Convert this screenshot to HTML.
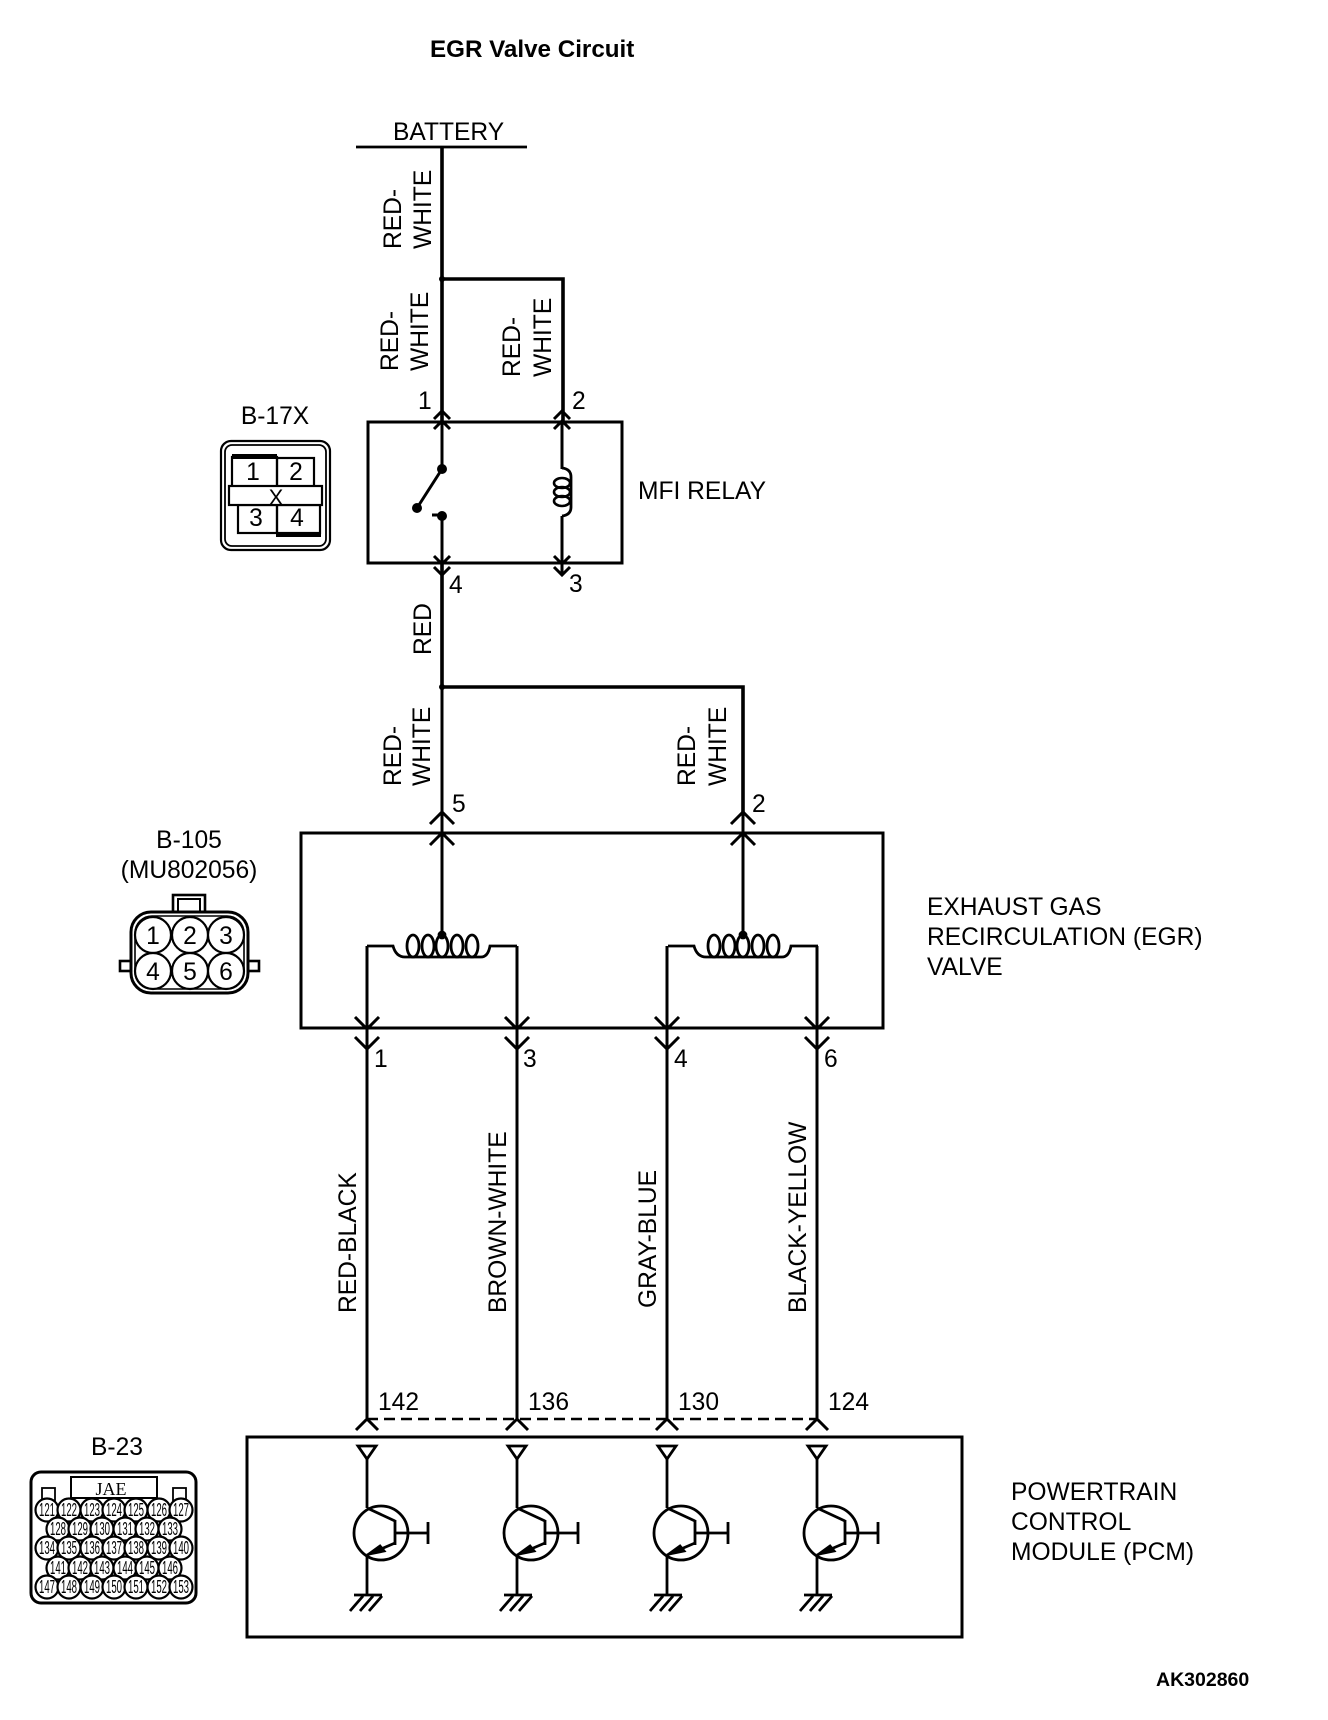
<!DOCTYPE html>
<html><head><meta charset="utf-8"><style>
html,body{margin:0;padding:0;background:#fff}
svg{display:block}
text{font-family:"Liberation Sans",sans-serif;font-size:24.6px;fill:#000}
.b{font-weight:bold}
.p text{font-size:18px;text-anchor:middle}
.m{text-anchor:middle}
.l{fill:none;stroke:#000;stroke-width:3}
.c circle{fill:#fff;stroke:#000;stroke-width:2.2}
</style></head><body>
<svg width="1328" height="1720" viewBox="0 0 1328 1720" xmlns="http://www.w3.org/2000/svg">
<defs>
<g id="tr" fill="none" stroke="#000" stroke-width="2.8">
<path d="M358 1446H376L367 1459Z"/>
<path d="M367 1459V1508"/>
<circle cx="381" cy="1533" r="27"/>
<path d="M367 1508L395 1521M395 1520V1545M395 1533H428M428 1522V1544M395 1543L367 1555M367 1555V1595M354 1595H382M363 1596L350 1611M373 1596L360 1611M382 1596L369 1611"/>
<path d="M369 1554L380 1546L384 1551Z" fill="#000"/>
</g>
<g id="coil" fill="none" stroke="#000" stroke-width="2.8">
<path d="M367 946H393Q396 957 405 957H481Q488 957 490 946H517"/>
<ellipse cx="413" cy="946" rx="6" ry="11"/>
<ellipse cx="428" cy="946" rx="6" ry="11"/>
<ellipse cx="442" cy="946" rx="6" ry="11"/>
<ellipse cx="457" cy="946" rx="6" ry="11"/>
<ellipse cx="472" cy="946" rx="6" ry="11"/>
<circle cx="442" cy="935" r="3" fill="#000"/>
</g>
</defs>

<text class="b" x="430" y="57" style="font-size:24.2px">EGR Valve Circuit</text>
<text class="b" x="1156" y="1686" style="font-size:19.5px">AK302860</text>

<!-- battery + upper wiring -->
<path d="M356 147H527" stroke="#000" stroke-width="2.8" fill="none"/>
<text x="393" y="140">BATTERY</text>
<path class="l" style="stroke-width:3.6" d="M442 147V422M442 279H563V422M442 563V687M442 687H743V812"/>
<path class="l" d="M442 687V935"/>
<circle cx="442" cy="279" r="3" fill="#000"/>
<circle cx="442" cy="687" r="3" fill="#000"/>

<!-- relay -->
<rect x="368" y="422" width="254" height="141" fill="none" stroke="#000" stroke-width="3"/>
<path class="l" d="M442 422V469M442 516V563M562 422V469M562 516V575"/>
<path class="l" d="M434 419L442 411L450 419M434 429L442 421L450 429M554 419L562 411L570 419M554 429L562 421L570 429"/>
<path class="l" d="M434 556L442 564L450 556M434 567L442 575L450 567M554 556L562 564L570 556M554 567L562 575L570 567"/>
<circle cx="442" cy="469" r="5"/>
<circle cx="442" cy="516" r="5"/>
<circle cx="417" cy="508" r="5"/>
<path class="l" d="M442 469L417 508M432 515H442"/>
<path fill="none" stroke="#000" stroke-width="2.800" d="M562 468Q571 469 571 477V507Q571 515 562 516"/>
<ellipse cx="562" cy="483" rx="8" ry="5" fill="none" stroke="#000" stroke-width="2.600"/>
<ellipse cx="562" cy="492" rx="8" ry="5" fill="none" stroke="#000" stroke-width="2.600"/>
<ellipse cx="562" cy="501" rx="8" ry="5" fill="none" stroke="#000" stroke-width="2.600"/>
<text x="418" y="409">1</text><text x="572" y="409">2</text>
<text x="449" y="593">4</text><text x="569" y="592">3</text>
<text x="638" y="499">MFI RELAY</text>

<!-- wire labels -->
<text transform="translate(401 249) rotate(-90)">RED-</text>
<text transform="translate(431 249) rotate(-90)">WHITE</text>
<text transform="translate(398 371) rotate(-90)">RED-</text>
<text transform="translate(428 371) rotate(-90)">WHITE</text>
<text transform="translate(520 377) rotate(-90)">RED-</text>
<text transform="translate(551 377) rotate(-90)">WHITE</text>
<text transform="translate(431 655) rotate(-90)">RED</text>
<text transform="translate(401 786) rotate(-90)">RED-</text>
<text transform="translate(430 786) rotate(-90)">WHITE</text>
<text transform="translate(695 786) rotate(-90)">RED-</text>
<text transform="translate(726 786) rotate(-90)">WHITE</text>
<text transform="translate(356 1313) rotate(-90)">RED-BLACK</text>
<text transform="translate(506 1313) rotate(-90)">BROWN-WHITE</text>
<text transform="translate(656 1308) rotate(-90)">GRAY-BLUE</text>
<text transform="translate(806 1313) rotate(-90)">BLACK-YELLOW</text>

<!-- EGR valve -->
<rect x="301" y="833" width="582" height="195" fill="none" stroke="#000" stroke-width="3"/>
<path class="l" d="M442 812V935M743 812V935"/>
<path class="l" d="M430 824L442 812L454 824M430 845L442 833L454 845M731 824L743 812L755 824M731 845L743 833L755 845"/>
<use href="#coil"/>
<use href="#coil" x="301"/>
<path class="l" d="M367 946V1418M517 946V1418M667 946V1418M817 946V1418"/>
<path class="l" d="M355 1017L367 1029L379 1017M355 1037L367 1049L379 1037M505 1017L517 1029L529 1017M505 1037L517 1049L529 1037M655 1017L667 1029L679 1017M655 1037L667 1049L679 1037M805 1017L817 1029L829 1017M805 1037L817 1049L829 1037"/>
<text x="452" y="812">5</text><text x="752" y="812">2</text>
<text x="374" y="1067">1</text><text x="523" y="1067">3</text>
<text x="674" y="1067">4</text><text x="824" y="1067">6</text>
<text x="927" y="915">EXHAUST GAS</text>
<text x="927" y="945">RECIRCULATION (EGR)</text>
<text x="927" y="975">VALVE</text>

<!-- PCM -->
<rect x="247" y="1437" width="715" height="200" fill="none" stroke="#000" stroke-width="3"/>
<path d="M367 1419H817" fill="none" stroke="#000" stroke-width="2.600" stroke-dasharray="11 6"/>
<path class="l" d="M356 1430L367 1419L378 1430M506 1430L517 1419L528 1430M656 1430L667 1419L678 1430M806 1430L817 1419L828 1430"/>
<use href="#tr"/><use href="#tr" x="150"/><use href="#tr" x="300"/><use href="#tr" x="450"/>
<text x="378" y="1410">142</text><text x="528" y="1410">136</text>
<text x="678" y="1410">130</text><text x="828" y="1410">124</text>
<text x="1011" y="1500">POWERTRAIN</text>
<text x="1011" y="1530">CONTROL</text>
<text x="1011" y="1560">MODULE (PCM)</text>

<!-- B-17X -->
<text class="m" x="275" y="424">B-17X</text>
<rect x="221" y="441" width="109" height="109" rx="10" fill="none" stroke="#000" stroke-width="2.2"/>
<rect x="225" y="445" width="101" height="101" rx="7" fill="none" stroke="#000" stroke-width="1.800"/>
<rect x="232" y="457" width="45" height="30" fill="none" stroke="#000" stroke-width="2.200"/>
<rect x="277" y="458" width="37" height="29" fill="none" stroke="#000" stroke-width="2.200"/>
<rect x="232" y="454" width="45" height="5"/>
<rect x="238" y="505" width="39" height="28" fill="none" stroke="#000" stroke-width="2.200"/>
<rect x="277" y="505" width="43" height="28" fill="none" stroke="#000" stroke-width="2.200"/>
<rect x="276" y="532" width="45" height="5"/>
<rect x="229" y="486" width="93" height="19" fill="#fff" stroke="#000" stroke-width="2.200"/>
<text class="m" x="253" y="480">1</text><text class="m" x="296" y="480">2</text>
<text class="m" x="256" y="526">3</text><text class="m" x="297" y="526">4</text>
<text class="m" x="276" y="505" style="font-size:22px">X</text>

<!-- B-105 -->
<text class="m" x="189" y="848">B-105</text>
<text class="m" x="189" y="878">(MU802056)</text>
<rect x="173" y="895" width="32" height="18" fill="none" stroke="#000" stroke-width="2.600"/>
<rect x="178" y="899" width="22" height="14" fill="none" stroke="#000" stroke-width="2"/>
<rect x="120" y="961" width="11" height="10" fill="none" stroke="#000" stroke-width="2.600"/>
<rect x="248" y="961" width="11" height="10" fill="none" stroke="#000" stroke-width="2.600"/>
<rect x="131" y="912" width="117" height="81" rx="20" fill="#fff" stroke="#000" stroke-width="3"/>
<rect x="135" y="916" width="109" height="73" rx="17" fill="none" stroke="#000" stroke-width="1.600"/>
<g class="c">
<circle cx="153" cy="935" r="18"/><circle cx="190" cy="935" r="18"/><circle cx="226" cy="935" r="18"/>
<circle cx="153" cy="971" r="18"/><circle cx="190" cy="971" r="18"/><circle cx="226" cy="971" r="18"/>
</g>
<text class="m" x="153" y="944">1</text><text class="m" x="190" y="944">2</text><text class="m" x="226" y="944">3</text>
<text class="m" x="153" y="980">4</text><text class="m" x="190" y="980">5</text><text class="m" x="226" y="980">6</text>

<!-- B-23 -->
<text class="m" x="117" y="1455">B-23</text>
<rect x="31" y="1472" width="165" height="131" rx="10" fill="none" stroke="#000" stroke-width="3"/>
<rect x="71" y="1477" width="86" height="21" fill="none" stroke="#000" stroke-width="2"/>
<rect x="42" y="1488" width="13" height="13" fill="none" stroke="#000" stroke-width="1.800"/>
<rect x="173" y="1488" width="13" height="13" fill="none" stroke="#000" stroke-width="1.800"/>
<text class="m" x="111" y="1495" style="font-size:18px;font-family:'Liberation Serif',serif">JAE</text>
<g class="c">
<circle cx="47" cy="1510" r="11.500"/><circle cx="69" cy="1510" r="11.500"/><circle cx="92" cy="1510" r="11.500"/><circle cx="114" cy="1510" r="11.500"/><circle cx="136" cy="1510" r="11.500"/><circle cx="159" cy="1510" r="11.500"/><circle cx="181" cy="1510" r="11.500"/>
<circle cx="58" cy="1529" r="11.500"/><circle cx="80" cy="1529" r="11.500"/><circle cx="102" cy="1529" r="11.500"/><circle cx="125" cy="1529" r="11.500"/><circle cx="147" cy="1529" r="11.500"/><circle cx="170" cy="1529" r="11.500"/>
<circle cx="47" cy="1548" r="11.500"/><circle cx="69" cy="1548" r="11.500"/><circle cx="92" cy="1548" r="11.500"/><circle cx="114" cy="1548" r="11.500"/><circle cx="136" cy="1548" r="11.500"/><circle cx="159" cy="1548" r="11.500"/><circle cx="181" cy="1548" r="11.500"/>
<circle cx="58" cy="1568" r="11.500"/><circle cx="80" cy="1568" r="11.500"/><circle cx="102" cy="1568" r="11.500"/><circle cx="125" cy="1568" r="11.500"/><circle cx="147" cy="1568" r="11.500"/><circle cx="170" cy="1568" r="11.500"/>
<circle cx="47" cy="1587" r="11.500"/><circle cx="69" cy="1587" r="11.500"/><circle cx="92" cy="1587" r="11.500"/><circle cx="114" cy="1587" r="11.500"/><circle cx="136" cy="1587" r="11.500"/><circle cx="159" cy="1587" r="11.500"/><circle cx="181" cy="1587" r="11.500"/>
</g>
<g class="p">
<text x="47" y="1516" textLength="16" lengthAdjust="spacingAndGlyphs">121</text><text x="69" y="1516" textLength="16" lengthAdjust="spacingAndGlyphs">122</text><text x="92" y="1516" textLength="16" lengthAdjust="spacingAndGlyphs">123</text><text x="114" y="1516" textLength="16" lengthAdjust="spacingAndGlyphs">124</text><text x="136" y="1516" textLength="16" lengthAdjust="spacingAndGlyphs">125</text><text x="159" y="1516" textLength="16" lengthAdjust="spacingAndGlyphs">126</text><text x="181" y="1516" textLength="16" lengthAdjust="spacingAndGlyphs">127</text>
<text x="58" y="1535" textLength="16" lengthAdjust="spacingAndGlyphs">128</text><text x="80" y="1535" textLength="16" lengthAdjust="spacingAndGlyphs">129</text><text x="102" y="1535" textLength="16" lengthAdjust="spacingAndGlyphs">130</text><text x="125" y="1535" textLength="16" lengthAdjust="spacingAndGlyphs">131</text><text x="147" y="1535" textLength="16" lengthAdjust="spacingAndGlyphs">132</text><text x="170" y="1535" textLength="16" lengthAdjust="spacingAndGlyphs">133</text>
<text x="47" y="1554" textLength="16" lengthAdjust="spacingAndGlyphs">134</text><text x="69" y="1554" textLength="16" lengthAdjust="spacingAndGlyphs">135</text><text x="92" y="1554" textLength="16" lengthAdjust="spacingAndGlyphs">136</text><text x="114" y="1554" textLength="16" lengthAdjust="spacingAndGlyphs">137</text><text x="136" y="1554" textLength="16" lengthAdjust="spacingAndGlyphs">138</text><text x="159" y="1554" textLength="16" lengthAdjust="spacingAndGlyphs">139</text><text x="181" y="1554" textLength="16" lengthAdjust="spacingAndGlyphs">140</text>
<text x="58" y="1574" textLength="16" lengthAdjust="spacingAndGlyphs">141</text><text x="80" y="1574" textLength="16" lengthAdjust="spacingAndGlyphs">142</text><text x="102" y="1574" textLength="16" lengthAdjust="spacingAndGlyphs">143</text><text x="125" y="1574" textLength="16" lengthAdjust="spacingAndGlyphs">144</text><text x="147" y="1574" textLength="16" lengthAdjust="spacingAndGlyphs">145</text><text x="170" y="1574" textLength="16" lengthAdjust="spacingAndGlyphs">146</text>
<text x="47" y="1593" textLength="16" lengthAdjust="spacingAndGlyphs">147</text><text x="69" y="1593" textLength="16" lengthAdjust="spacingAndGlyphs">148</text><text x="92" y="1593" textLength="16" lengthAdjust="spacingAndGlyphs">149</text><text x="114" y="1593" textLength="16" lengthAdjust="spacingAndGlyphs">150</text><text x="136" y="1593" textLength="16" lengthAdjust="spacingAndGlyphs">151</text><text x="159" y="1593" textLength="16" lengthAdjust="spacingAndGlyphs">152</text><text x="181" y="1593" textLength="16" lengthAdjust="spacingAndGlyphs">153</text>
</g>
</svg>
</body></html>
